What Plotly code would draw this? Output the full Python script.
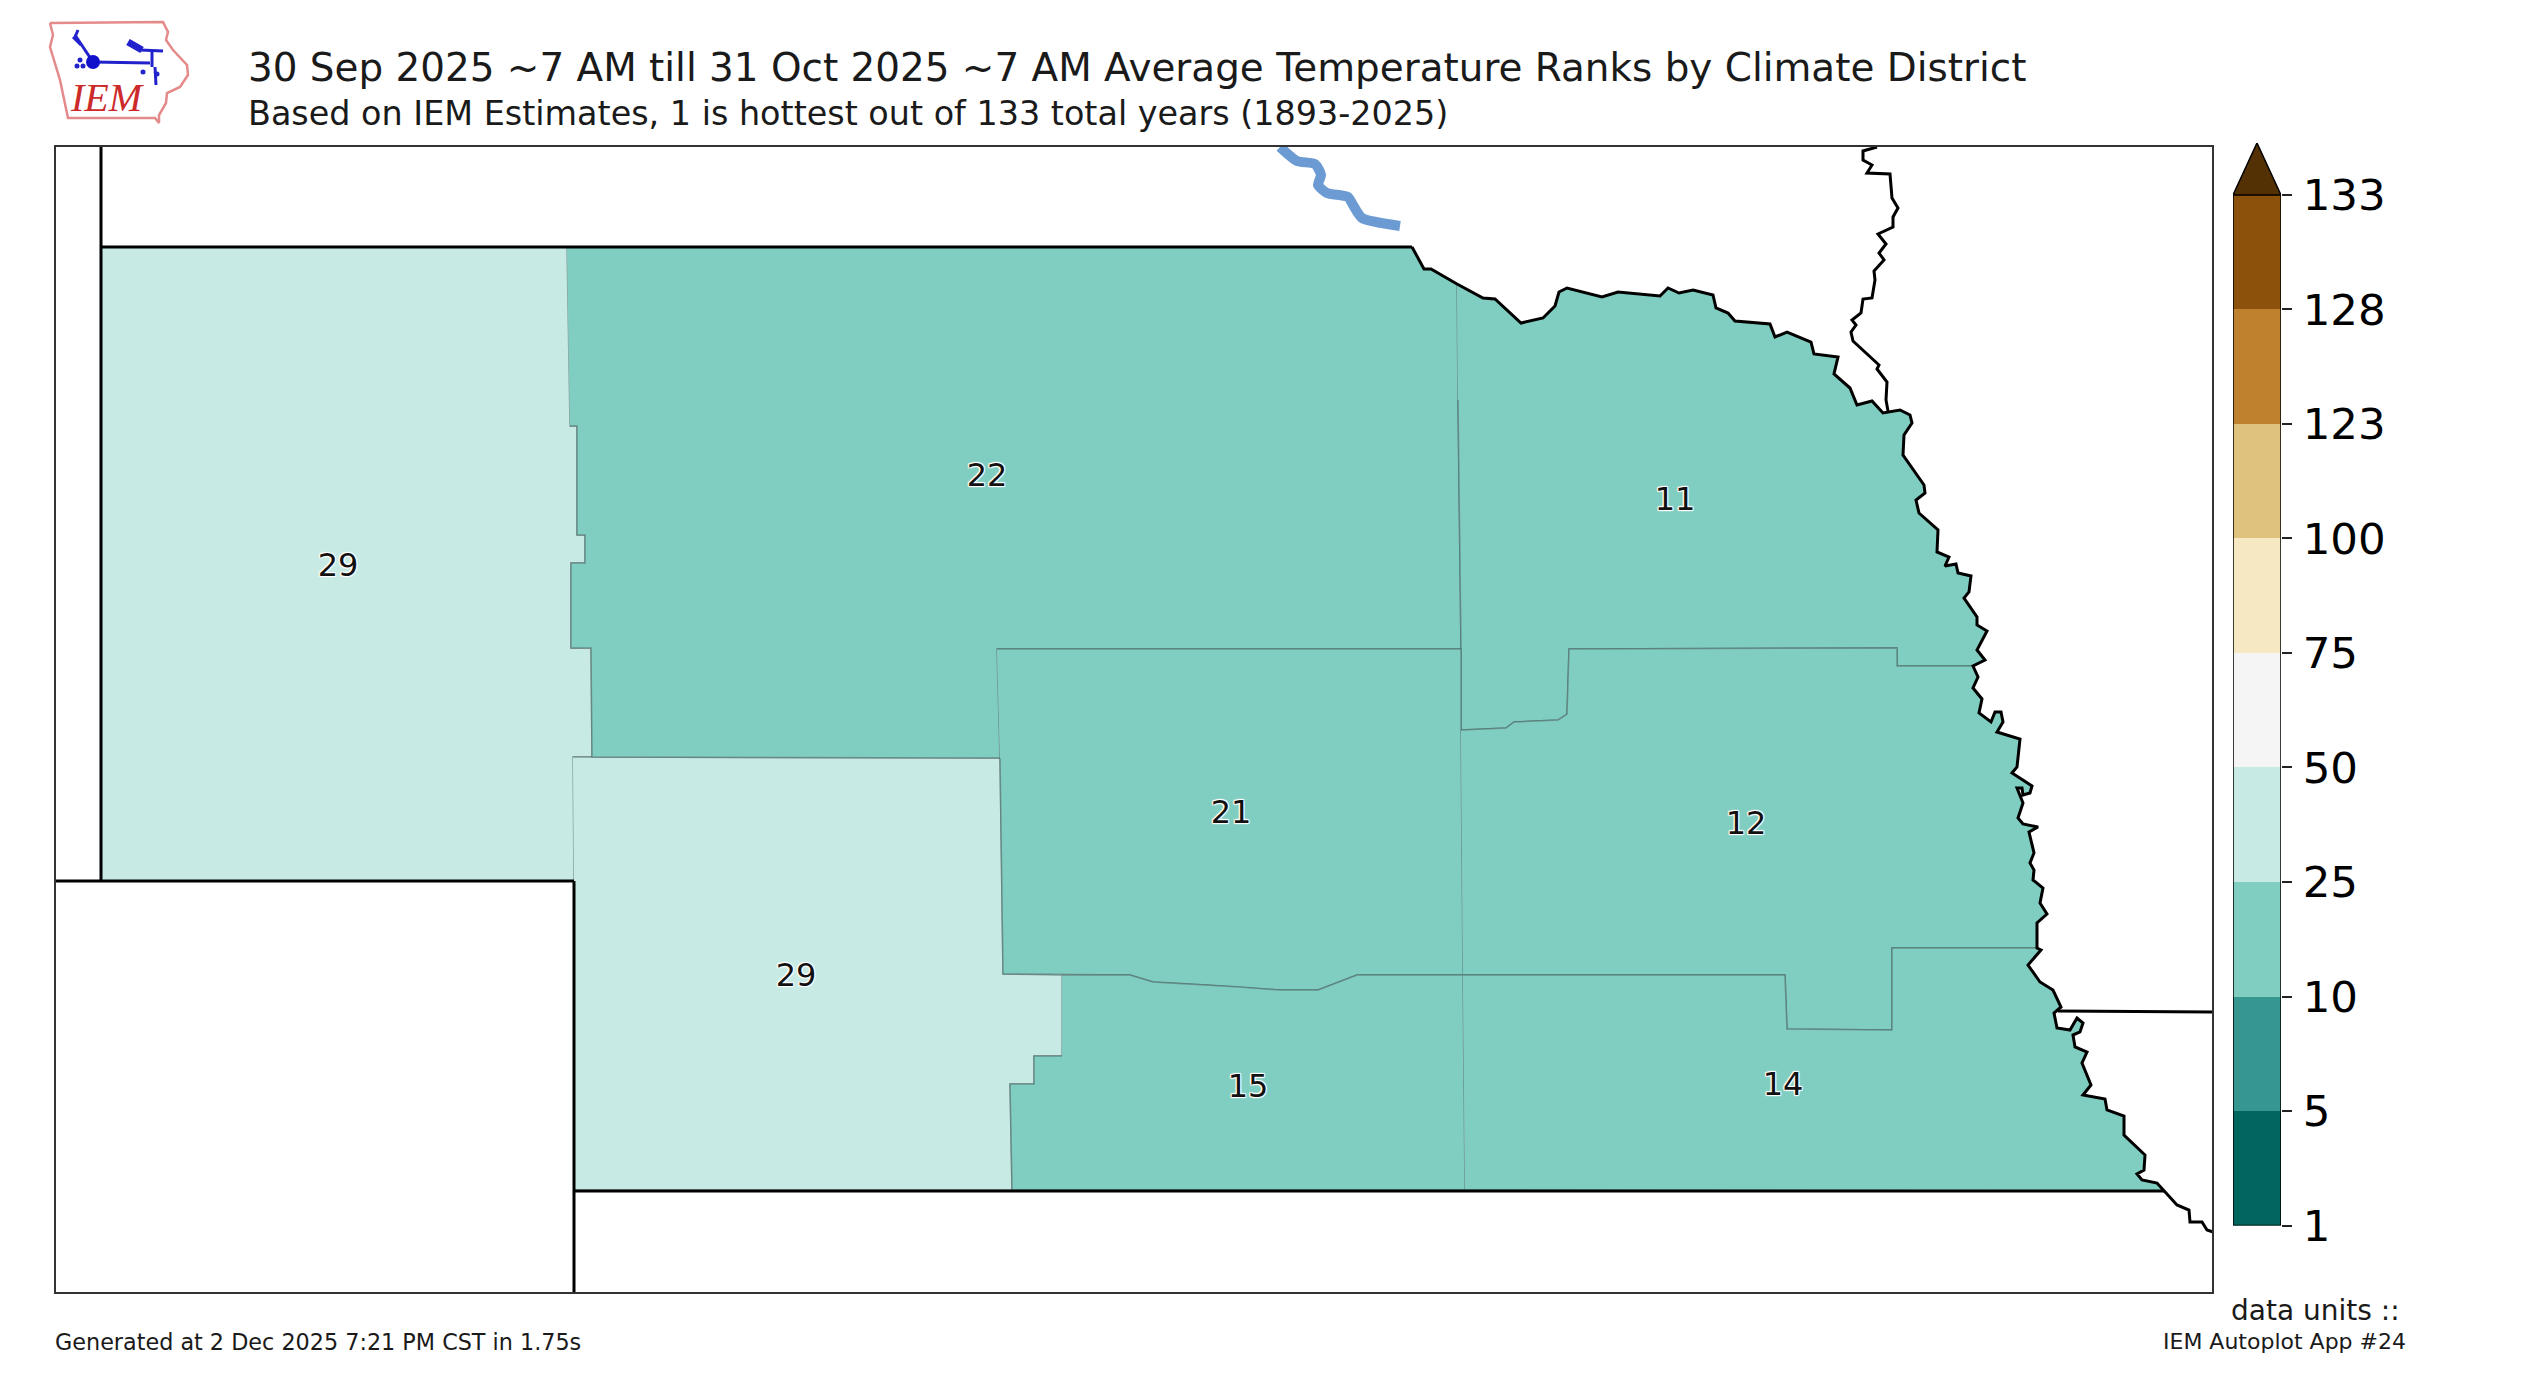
# IEM autoplot 24: climate district temperature ranks for Nebraska
import plotly.graph_objects as go

W, H = 2526, 1382

TITLE = "30 Sep 2025 ~7 AM till 31 Oct 2025 ~7 AM Average Temperature Ranks by Climate District"
SUBTITLE = "Based on IEM Estimates, 1 is hottest out of 133 total years (1893-2025)"
FOOT_LEFT = "Generated at 2 Dec 2025 7:21 PM CST in 1.75s"
FOOT_RIGHT = "IEM Autoplot App #24"
UNITS = "data units ::"

# colour scale
bin_edges = ["1", "5", "10", "25", "50", "75", "100", "123", "128", "133"]
bin_colors = ["#01665e", "#35978f", "#80cdc1", "#c7eae5", "#f5f5f5",
              "#f6e8c3", "#dfc27d", "#bf812d", "#8c510a"]
over_color = "#543005"

# map extent and outlines, in map units (y runs downward)
map_x_range = [56, 2212]
map_y_range = [1292, 147]

# Missouri river, split where district lines meet it
river_nc_x = [1412, 1424, 1431, 1457]
river_nc_y = [247, 269, 269, 284]
river_ne_x = [1483, 1495, 1521, 1543, 1555, 1559, 1567, 1602, 1618, 1660, 1668, 1679, 1693, 1713, 1716, 1728, 1735,
              1770, 1775, 1787, 1811, 1814, 1838, 1834, 1850, 1857, 1872, 1883, 1900, 1910, 1912, 1904, 1903, 1924,
              1925, 1916, 1919, 1938, 1937, 1949, 1945, 1956, 1958, 1971, 1969, 1964, 1977, 1977, 1987, 1977, 1985]
river_ne_y = [298, 299, 323, 318, 306, 292, 288, 297, 292, 296, 288, 293, 290, 295, 308, 313, 321,
              324, 337, 332, 342, 354, 357, 374, 388, 405, 401, 413, 410, 415, 423, 435, 455, 485,
              493, 500, 513, 530, 552, 557, 566, 564, 573, 576, 592, 598, 617, 625, 631, 650, 660]
river_e_x = [1973, 1978, 1973, 1982, 1979, 1991, 1995, 2001, 2003, 1997, 2020, 2017, 2012, 2032, 2030, 2023, 2022,
             2017, 2023, 2018, 2023, 2038, 2029, 2034, 2030, 2034, 2033, 2043, 2040, 2047, 2037]
river_e_y = [666, 677, 688, 699, 713, 722, 712, 712, 722, 732, 739, 767, 773, 786, 793, 795, 788,
             788, 803, 818, 824, 827, 832, 853, 863, 870, 880, 888, 903, 914, 923]
river_se_x = [2037, 2041, 2028, 2040, 2053, 2061, 2054, 2057, 2070, 2077, 2083, 2080, 2073, 2075, 2087, 2082, 2091,
              2083, 2105, 2107, 2124, 2124, 2145, 2144, 2137, 2142, 2157, 2164]
river_se_y = [948, 950, 965, 982, 990, 1007, 1013, 1028, 1030, 1018, 1023, 1032, 1035, 1047, 1052, 1063, 1085,
              1095, 1099, 1110, 1116, 1135, 1155, 1170, 1174, 1180, 1183, 1191]
river_tail_x = [2164, 2177, 2189, 2190, 2202, 2207, 2213]
river_tail_y = [1191, 1205, 1210, 1222, 1222, 1230, 1232]

# South Dakota / Iowa line
sioux_x = [1877, 1863, 1863, 1872, 1867, 1890, 1892, 1898, 1893, 1893, 1878, 1886, 1879, 1884, 1874, 1875, 1872,
           1863, 1861, 1852, 1856, 1851, 1853, 1879, 1877, 1887, 1886, 1888]
sioux_y = [147, 151, 160, 165, 173, 174, 198, 208, 217, 227, 234, 244, 253, 260, 271, 280, 298,
           299, 313, 320, 325, 332, 341, 365, 369, 382, 400, 411]

# Kansas / Missouri line
ks_mo_x = [2058, 2212]
ks_mo_y = [1011, 1012]

# state lines
west_x, west_y = [101, 101], [147, 881]
north_x, north_y = [101, 1412], [247, 247]
co_north_x, co_north_y = [56, 574], [881, 881]
co_east_x, co_east_y = [574, 574], [881, 1292]
south_x, south_y = [574, 2164], [1191, 1191]

# district ranks, label spots and outlines
rank_values = [29, 22, 11, 29, 21, 12, 15, 14]
rank_x = [338, 987, 1675, 796, 1231, 1746, 1248, 1783]
rank_y = [568, 478, 502, 978, 815, 826, 1089, 1087]

d_panhandle_x = [101, 567, 570, 577, 577, 585, 585, 571, 571, 591, 592, 573, 574, 101]
d_panhandle_y = [247, 247, 426, 426, 535, 535, 563, 563, 648, 648, 757, 757, 881, 881]

d_southwest_x = [573, 1000, 1003, 1062, 1062, 1034, 1034, 1010, 1012, 574, 574]
d_southwest_y = [757, 758, 974, 975, 1056, 1056, 1084, 1084, 1190, 1190, 881]

d_north_x = [567] + river_nc_x + [1458, 1461, 997, 1000, 592, 591, 571, 571, 585, 585, 577, 577, 570]
d_north_y = [247] + river_nc_y + [400, 649, 649, 758, 757, 648, 648, 563, 563, 535, 535, 426, 426]

d_northeast_x = [1457] + river_ne_x + [1973, 1897, 1897, 1569, 1567, 1558, 1514, 1506, 1461, 1461, 1458]
d_northeast_y = [284] + river_ne_y + [666, 666, 648, 649, 714, 720, 722, 728, 730, 649, 400]

d_central_x = [997, 1461, 1461, 1463, 1357, 1318, 1280, 1240, 1207, 1153, 1130, 1003, 1000]
d_central_y = [649, 649, 730, 975, 975, 990, 990, 987, 985, 982, 975, 974, 758]

d_southcentral_x = [1062, 1130, 1153, 1207, 1240, 1280, 1318, 1357, 1463, 1465, 1012, 1010, 1034, 1034, 1062]
d_southcentral_y = [975, 975, 982, 985, 987, 990, 990, 975, 975, 1190, 1190, 1084, 1084, 1056, 1056]

d_east_x = [1461, 1506, 1514, 1558, 1567, 1569, 1897, 1897] + river_e_x + river_se_x[:1] + [1892, 1892, 1787, 1785, 1463]
d_east_y = [730, 728, 722, 720, 714, 649, 648, 666] + river_e_y + river_se_y[:1] + [948, 1030, 1029, 975, 975]

d_southeast_x = [1463, 1785, 1787, 1892, 1892] + river_se_x + [1465]
d_southeast_y = [975, 975, 1029, 1030, 948] + river_se_y + [1190]

districts = [
    (d_panhandle_x, d_panhandle_y, "#c7eae5"),
    (d_southwest_x, d_southwest_y, "#c7eae5"),
    (d_north_x, d_north_y, "#80cdc1"),
    (d_northeast_x, d_northeast_y, "#80cdc1"),
    (d_central_x, d_central_y, "#80cdc1"),
    (d_southcentral_x, d_southcentral_y, "#80cdc1"),
    (d_east_x, d_east_y, "#80cdc1"),
    (d_southeast_x, d_southeast_y, "#80cdc1"),
]

# stretch of the Missouri at top of the map
lake_x = [1280, 1297, 1315, 1321, 1318, 1327, 1348, 1353, 1362, 1400]
lake_y = [147, 161, 164, 175, 185, 193, 197, 205, 218, 226]

# logo pieces, in page units
logo_iowa_x = [50, 163, 168, 166, 173, 187, 188, 180, 167, 166, 159, 159, 155, 68, 60, 50, 53, 50]
logo_iowa_y = [23, 22, 32, 40, 50, 65, 75, 87, 93, 103, 115, 123, 118, 118, 80, 47, 35, 23]
logo_stem_x = [93, 150, None, 93, 75, None, 73, 81, None, 78, 75, None, 152, 152, None, 140, 163, None, 155, 156]
logo_stem_y = [62, 63, None, 62, 35, None, 37, 45, None, 30, 37, None, 50, 67, None, 50, 51, None, 67, 85]
logo_wing_x = [128, 142]
logo_wing_y = [42, 50]
logo_dot_x = [80, 77, 83, 143, 157]
logo_dot_y = [60, 66, 66, 72, 74]
logo_hub_x = [93]
logo_hub_y = [62]

fig = go.Figure()

for dx, dy, color in districts:
    fig.add_trace(go.Scatter(x=dx, y=dy, mode="lines", fill="toself", fillcolor=color,
                             line=dict(color="rgba(70,90,90,0.5)", width=1.5), hoverinfo="skip"))

# state lines on top of the fills
river_all_x = river_nc_x + river_ne_x + river_e_x + river_se_x + river_tail_x
river_all_y = river_nc_y + river_ne_y + river_e_y + river_se_y + river_tail_y
for lx, ly in [(west_x, west_y), (north_x, north_y), (co_north_x, co_north_y), (co_east_x, co_east_y),
               (south_x, south_y), (river_all_x, river_all_y), (sioux_x, sioux_y), (ks_mo_x, ks_mo_y)]:
    fig.add_trace(go.Scatter(x=lx, y=ly, mode="lines", line=dict(color="black", width=3), hoverinfo="skip"))

fig.add_trace(go.Scatter(x=lake_x, y=lake_y, mode="lines",
                         line=dict(color="#6b9bd2", width=10, shape="spline", smoothing=0.6), hoverinfo="skip"))

halo = "-1px -1px 1px #fff,1px -1px 1px #fff,-1px 1px 1px #fff,1px 1px 1px #fff,0 0 2px #fff"
fig.add_trace(go.Scatter(x=rank_x, y=rank_y, mode="text", text=[str(v) for v in rank_values],
                         textposition="middle center",
                         textfont=dict(family="DejaVu Sans", size=32, color="#111111", shadow=halo)))

# colour bar, one stacked bar per bin
for color in bin_colors:
    fig.add_trace(go.Bar(x=[0], y=[1], width=1, marker=dict(color=color, line=dict(width=0)),
                         xaxis="x2", yaxis="y2", hoverinfo="skip"))
fig.add_trace(go.Scatter(x=[-0.5, 0, 0.5], y=[9, 9.454, 9], mode="lines", fill="toself", fillcolor=over_color,
                         line=dict(color="black", width=1.5), xaxis="x2", yaxis="y2", hoverinfo="skip", cliponaxis=False))
fig.add_trace(go.Scatter(x=[-0.5, -0.5, 0.5, 0.5, -0.5], y=[9, 0, 0, 9, 9], mode="lines",
                         line=dict(color="black", width=1.5), xaxis="x2", yaxis="y2", hoverinfo="skip", cliponaxis=False))

# logo
fig.add_trace(go.Scatter(x=logo_iowa_x, y=logo_iowa_y, mode="lines", line=dict(color="#e58a8a", width=2.5),
                         xaxis="x3", yaxis="y3", hoverinfo="skip"))
fig.add_trace(go.Scatter(x=logo_stem_x, y=logo_stem_y, mode="lines", line=dict(color="#2222cc", width=3),
                         xaxis="x3", yaxis="y3", hoverinfo="skip"))
fig.add_trace(go.Scatter(x=logo_wing_x, y=logo_wing_y, mode="lines", line=dict(color="#2222cc", width=7),
                         xaxis="x3", yaxis="y3", hoverinfo="skip"))
fig.add_trace(go.Scatter(x=logo_dot_x, y=logo_dot_y, mode="markers", marker=dict(color="#2222cc", size=5),
                         xaxis="x3", yaxis="y3", hoverinfo="skip"))
fig.add_trace(go.Scatter(x=logo_hub_x, y=logo_hub_y, mode="markers", marker=dict(color="#1111cc", size=14),
                         xaxis="x3", yaxis="y3", hoverinfo="skip"))


def page_text(text, px, py, size, anchor="left", **font):
    return dict(text=text, x=px / W, y=1 - py / H, xref="paper", yref="paper", xanchor=anchor, yanchor="middle",
                showarrow=False, font=dict(family="DejaVu Sans", size=size, color="#1a1a1a", **font))


fig.update_layout(
    width=W, height=H,
    margin=dict(l=0, r=0, t=0, b=0, autoexpand=False),
    paper_bgcolor="white", plot_bgcolor="rgba(0,0,0,0)",
    showlegend=False, barmode="stack", bargap=0,
    xaxis=dict(domain=[56 / W, 2212 / W], range=map_x_range, showticklabels=False, ticks="", showgrid=False,
               zeroline=False, showline=True, mirror=True, linecolor="#333333", linewidth=2, automargin=False),
    yaxis=dict(domain=[1 - 1292 / H, 1 - 147 / H], range=map_y_range, showticklabels=False, ticks="", showgrid=False,
               zeroline=False, showline=True, mirror=True, linecolor="#333333", linewidth=2, automargin=False),
    xaxis2=dict(domain=[2233 / W, 2281 / W], range=[-0.5, 0.5], visible=False, anchor="y2", automargin=False),
    yaxis2=dict(domain=[1 - 1225.5 / H, 1 - 143 / H], range=[0, 9.454], anchor="x2", side="right",
                tickmode="array", tickvals=list(range(10)), ticktext=bin_edges, ticks="outside", ticklen=10,
                tickcolor="#222222", tickwidth=1.5, ticklabelstandoff=2, showgrid=False, zeroline=False,
                showline=False, automargin=False, tickfont=dict(family="DejaVu Sans", size=43.5, color="black")),
    xaxis3=dict(domain=[0, 1], range=[0, W], visible=False, anchor="y3", automargin=False),
    yaxis3=dict(domain=[0, 1], range=[H, 0], visible=False, anchor="x3", automargin=False),
    annotations=[
        page_text(TITLE, 246, 67, 38.9),
        page_text(SUBTITLE, 246, 114, 33.4),
        page_text(FOOT_LEFT, 53, 1342, 22.3),
        page_text(FOOT_RIGHT, 2408, 1341, 22, anchor="right"),
        page_text(UNITS, 2402, 1310, 28, anchor="right"),
        dict(text="<i>IEM</i>", x=107 / W, y=1 - 97 / H, xref="paper", yref="paper", showarrow=False,
             xanchor="center", yanchor="middle",
             font=dict(family="Liberation Serif", size=40, color="#cc2a2a")),
    ],
)

# the page body has a default margin that would shift the fixed-size figure
fig.write_html("out.html", config={"displayModeBar": False}, post_script="document.body.style.margin='0';")
